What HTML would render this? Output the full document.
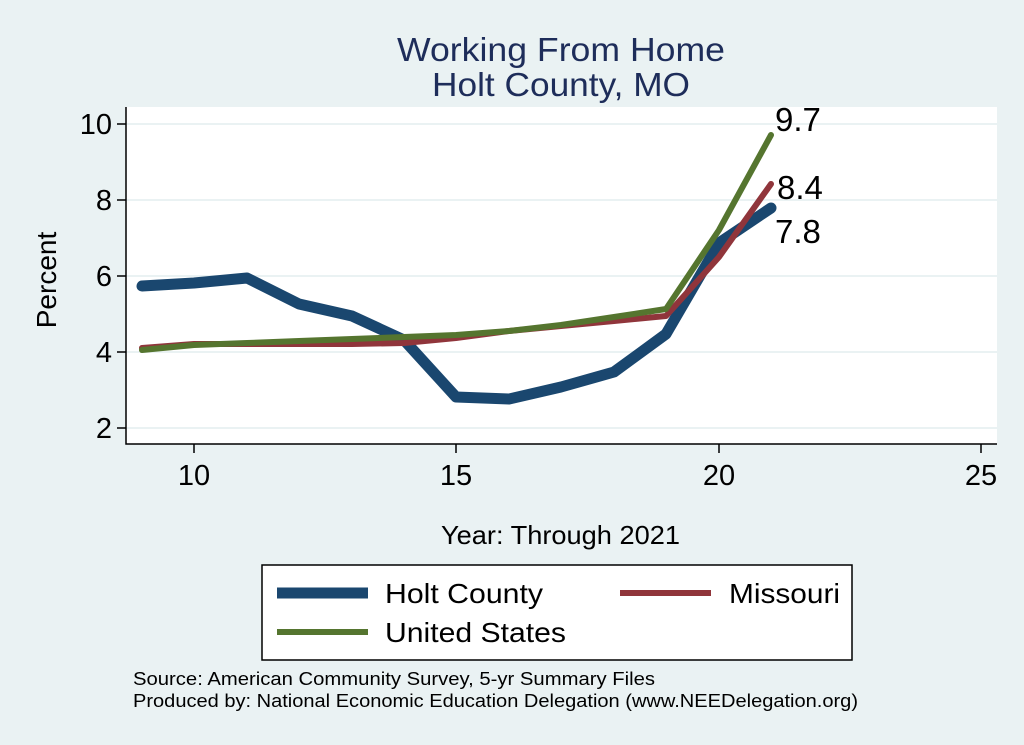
<!DOCTYPE html>
<html><head><style>
body{margin:0;background:#eaf2f3;}
svg{display:block;font-family:"Liberation Sans",Arial,sans-serif;}
</style></head><body>
<svg width="1024" height="745" viewBox="0 0 1024 745">
<rect width="1024" height="745" fill="#eaf2f3"/>
<text x="397" y="61" font-size="33" fill="#1e2d5a" textLength="328" lengthAdjust="spacingAndGlyphs">Working From Home</text>
<text x="432" y="96" font-size="33" fill="#1e2d5a" textLength="258" lengthAdjust="spacingAndGlyphs">Holt County, MO</text>
<rect x="126" y="107" width="871" height="337" fill="#fff"/>
<g stroke="#eaf2f3" stroke-width="2">
<line x1="126" x2="997" y1="124" y2="124"/><line x1="126" x2="997" y1="200" y2="200"/>
<line x1="126" x2="997" y1="276" y2="276"/><line x1="126" x2="997" y1="352" y2="352"/>
<line x1="126" x2="997" y1="428" y2="428"/>
</g>
<g stroke="#000" stroke-width="1.5" fill="none">
<polyline points="126,107 126,444 997,444"/>
<line x1="117" x2="126" y1="124" y2="124"/><line x1="117" x2="126" y1="200" y2="200"/>
<line x1="117" x2="126" y1="276" y2="276"/><line x1="117" x2="126" y1="352" y2="352"/>
<line x1="117" x2="126" y1="428" y2="428"/>
<line x1="194" x2="194" y1="444" y2="453"/><line x1="456" x2="456" y1="444" y2="453"/>
<line x1="719" x2="719" y1="444" y2="453"/><line x1="981" x2="981" y1="444" y2="453"/>
</g>
<g font-size="29" text-anchor="end">
<text x="112" y="134">10</text><text x="112" y="210">8</text><text x="112" y="286">6</text>
<text x="112" y="362">4</text><text x="112" y="438">2</text>
</g>
<g font-size="29" text-anchor="middle">
<text x="194" y="485">10</text><text x="456" y="485">15</text><text x="719" y="485">20</text><text x="981" y="485">25</text>
</g>
<text transform="translate(56,280) rotate(-90)" font-size="28" text-anchor="middle">Percent</text>
<text x="441" y="544" font-size="26" textLength="239" lengthAdjust="spacingAndGlyphs">Year: Through 2021</text>
<g fill="none" stroke-linejoin="round" stroke-linecap="round">
<polyline stroke="#1a476f" stroke-width="11" points="142,286 194,283 247,278 299,304 352,316 404,340 456,397 509,399 561,387 614,372 666,334 719,243 771,208"/>
<polyline stroke="#90353b" stroke-width="6" points="142,348 194,344 247,344 299,344 352,344 404,343 456,338 509,331 561,326 614,321 666,316 719,257 771,184"/>
<polyline stroke="#55752f" stroke-width="6" points="142,350 194,345 247,343 299,341 352,339 404,337 456,335 509,331 561,325 614,317 666,309 719,230 771,135"/>
</g>
<g font-size="33">
<text x="775" y="131">9.7</text><text x="777" y="199">8.4</text><text x="775" y="243">7.8</text>
</g>
<rect x="262" y="565" width="590" height="95" fill="#fff" stroke="#000" stroke-width="1.5"/>
<line x1="277" x2="368" y1="593" y2="593" stroke="#1a476f" stroke-width="11"/>
<text x="385" y="603" font-size="28" textLength="158" lengthAdjust="spacingAndGlyphs">Holt County</text>
<line x1="620" x2="711" y1="593" y2="593" stroke="#90353b" stroke-width="6"/>
<text x="729" y="603" font-size="28" textLength="111" lengthAdjust="spacingAndGlyphs">Missouri</text>
<line x1="277" x2="368" y1="632" y2="632" stroke="#55752f" stroke-width="6"/>
<text x="385" y="642" font-size="28" textLength="181" lengthAdjust="spacingAndGlyphs">United States</text>
<text x="133" y="685" font-size="18" textLength="522" lengthAdjust="spacingAndGlyphs">Source: American Community Survey, 5-yr Summary Files</text>
<text x="133" y="707" font-size="18" textLength="725" lengthAdjust="spacingAndGlyphs">Produced by: National Economic Education Delegation (www.NEEDelegation.org)</text>
</svg>
</body></html>
